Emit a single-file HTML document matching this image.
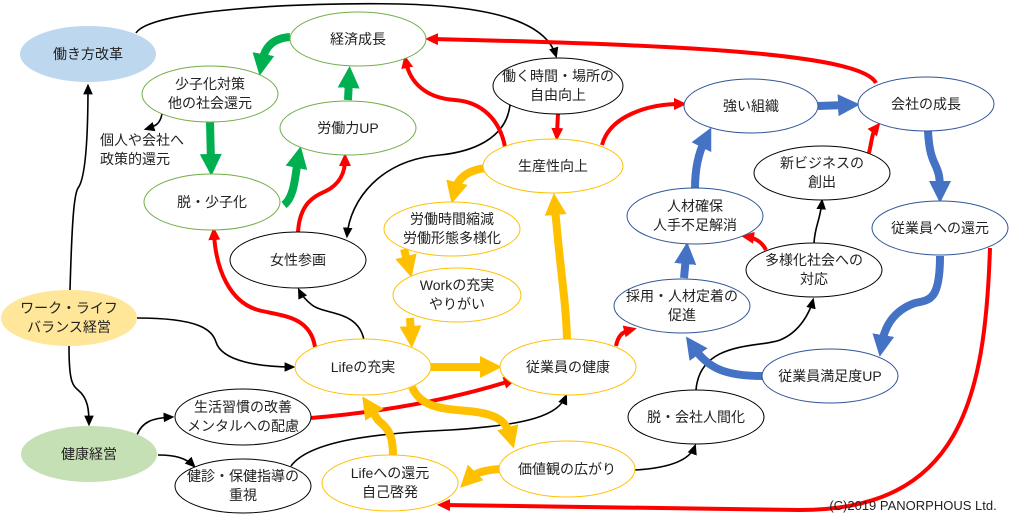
<!DOCTYPE html>
<html><head><meta charset="utf-8"><style>
body{margin:0;background:#fff}
svg{display:block}
text{font-family:"Liberation Sans","Noto Sans CJK JP",sans-serif;font-size:14px;fill:#222;text-anchor:middle}
</style></head><body>
<svg width="1009" height="519" viewBox="0 0 1009 519" xmlns="http://www.w3.org/2000/svg">
<defs>
<marker id="mk" markerUnits="userSpaceOnUse" markerWidth="12" markerHeight="12" refX="7" refY="5" orient="auto" viewBox="0 0 10 10"><path d="M0,1 L9,5 L0,9 z" fill="#000"/></marker>
<marker id="mr" markerUnits="userSpaceOnUse" markerWidth="14" markerHeight="14" refX="6" refY="7" orient="auto" viewBox="0 0 14 14"><path d="M0,1 L13,7 L0,13 z" fill="#f00"/></marker>
<marker id="mg" markerUnits="userSpaceOnUse" markerWidth="24" markerHeight="24" refX="8" refY="12" orient="auto" viewBox="0 0 24 24"><path d="M0,1 L22,12 L0,23 z" fill="#00B050"/></marker>
<marker id="mo" markerUnits="userSpaceOnUse" markerWidth="24" markerHeight="24" refX="8" refY="12" orient="auto" viewBox="0 0 24 24"><path d="M0,1 L22,12 L0,23 z" fill="#FFC000"/></marker>
<marker id="mb" markerUnits="userSpaceOnUse" markerWidth="24" markerHeight="24" refX="8" refY="12" orient="auto" viewBox="0 0 24 24"><path d="M0,1 L22,12 L0,23 z" fill="#4472C4"/></marker>
</defs>

<g fill="none" stroke="#000" stroke-width="1.6">
<path d="M136,33 C150,10 300,2 400,4 C480,6 545,18 556,56" marker-end="url(#mk)"/>
<path d="M70,290 C72,220 74,195 78,188 C86,178 88,130 88,86" marker-end="url(#mk)"/>
<path d="M69,346 C69,380 72,385 78,390 C88,398 89,410 89,424" marker-end="url(#mk)"/>
<path d="M137,318 C200,318 212,330 216,342 C222,362 262,367 293,367" marker-end="url(#mk)"/>
<path d="M162,114 C160,124 156,126 146,129" marker-end="url(#mk)"/>
<path d="M510,105 C506,140 470,152 440,155 C380,160 350,200 347,236" marker-end="url(#mk)"/>
<path d="M364,340 C358,310 325,315 312,305 C302,297 300,292 299,290" marker-end="url(#mk)"/>
<path d="M137,435 C142,422 152,418 172,417" marker-end="url(#mk)"/>
<path d="M158,455 C175,455 186,458 194,466" marker-end="url(#mk)"/>
<path d="M291,466 C310,440 380,433 450,430 C530,425 558,415 566,396" marker-end="url(#mk)"/>
<path d="M635,470 C670,468 690,460 695,446" marker-end="url(#mk)"/>
<path d="M696,390 C700,340 760,348 780,340 C800,332 810,312 813,300" marker-end="url(#mk)"/>
<path d="M814,243 C815,225 820,222 822,201" marker-end="url(#mk)"/>
</g>

<g fill="none" stroke="#f00" stroke-width="4">
<path d="M876,83 C862,55 700,45 432,39" marker-end="url(#mr)"/>
<path d="M558,113 L557,134" marker-end="url(#mr)"/>
<path d="M505,147 C500,120 482,102 455,100 C425,98 410,82 406,62" marker-end="url(#mr)"/>
<path d="M602,145 C610,115 650,104 680,104" marker-end="url(#mr)"/>
<path d="M869,153 C872,140 872,133 876,128" marker-end="url(#mr)"/>
<path d="M766,250 C762,242 755,238 748,237" marker-end="url(#mr)"/>
<path d="M298,232 C300,200 318,195 326,191 C340,184 345,172 345,160" marker-end="url(#mr)"/>
<path d="M315,347 C310,315 280,316 258,310 C230,302 216,270 214,234" marker-end="url(#mr)"/>
<path d="M311,418 C380,412 450,400 510,381" marker-end="url(#mr)"/>
<path d="M616,346 C618,336 622,332 630,330" marker-end="url(#mr)"/>
<path d="M990,248 C985,400 960,510 800,510 L444,505" marker-end="url(#mr)"/>
</g>

<g fill="none" stroke="#00B050" stroke-width="8">
<path d="M290,37 C275,38 265,45 262,62" marker-end="url(#mg)"/>
<path d="M210,122 L211,162" marker-end="url(#mg)"/>
<path d="M284,205 C295,196 295,175 298,160" marker-end="url(#mg)"/>
<path d="M348,100 L349,80" marker-end="url(#mg)"/>
</g>

<g fill="none" stroke="#FFC000" stroke-width="8">
<path d="M486,168 C468,170 458,178 455,190" marker-end="url(#mo)"/>
<path d="M404,249 L408,264" marker-end="url(#mo)"/>
<path d="M410,318 L411,334" marker-end="url(#mo)"/>
<path d="M431,367 L488,367" marker-end="url(#mo)"/>
<path d="M412,387 C425,418 470,405 495,417 C505,422 508,428 510,435" marker-end="url(#mo)"/>
<path d="M567,340 C566,300 560,270 555,207" marker-end="url(#mo)"/>
<path d="M500,469 C485,470 475,473 470,478" marker-end="url(#mo)"/>
<path d="M393,456 C393,430 385,427 378,420 L370,408" marker-end="url(#mo)"/>
</g>

<g fill="none" stroke="#4472C4" stroke-width="8">
<path d="M818,106 L846,105" marker-end="url(#mb)"/>
<path d="M695,188 C695,165 700,150 705,140" marker-end="url(#mb)"/>
<path d="M684,278 L686,256" marker-end="url(#mb)"/>
<path d="M928,131 C930,170 940,160 940,189" marker-end="url(#mb)"/>
<path d="M940,256 C940,300 930,300 915,303 C895,310 885,325 882,343" marker-end="url(#mb)"/>
<path d="M762,376 C725,376 708,368 694,348" marker-end="url(#mb)"/>
</g>

<g stroke-width="1">
<ellipse cx="88" cy="54" rx="68" ry="28" fill="#BDD7EE"/>
<ellipse cx="69" cy="318" rx="68" ry="28" fill="#FFE699"/>
<ellipse cx="89" cy="454" rx="68" ry="28" fill="#C5E0B4"/>
<g fill="#fff" stroke="#70AD47">
<ellipse cx="358" cy="39" rx="68" ry="27"/>
<ellipse cx="210" cy="94" rx="68" ry="28"/>
<ellipse cx="348" cy="128" rx="68" ry="27"/>
<ellipse cx="212" cy="202" rx="68" ry="28"/>
</g>
<g fill="#fff" stroke="#000">
<ellipse cx="298" cy="260" rx="68" ry="28"/>
<ellipse cx="558" cy="86" rx="65" ry="28"/>
<ellipse cx="822" cy="173" rx="68" ry="27"/>
<ellipse cx="814" cy="270" rx="68" ry="27"/>
<ellipse cx="696" cy="417" rx="68" ry="27"/>
<ellipse cx="243" cy="417" rx="68" ry="28"/>
<ellipse cx="243" cy="486" rx="68" ry="27"/>
</g>
<g fill="#fff" stroke="#FFC000">
<ellipse cx="553" cy="166" rx="70" ry="27"/>
<ellipse cx="452" cy="229" rx="68" ry="27"/>
<ellipse cx="457" cy="295" rx="64" ry="27"/>
<ellipse cx="363" cy="367" rx="68" ry="28"/>
<ellipse cx="568" cy="367" rx="68" ry="28"/>
<ellipse cx="567" cy="469" rx="68" ry="28"/>
<ellipse cx="390" cy="483" rx="68" ry="28"/>
</g>
<g fill="#fff" stroke="#2F5597">
<ellipse cx="751" cy="106" rx="67" ry="27"/>
<ellipse cx="926" cy="104" rx="68" ry="27"/>
<ellipse cx="695" cy="216" rx="68" ry="28"/>
<ellipse cx="940" cy="228" rx="68" ry="27"/>
<ellipse cx="682" cy="306" rx="68" ry="27"/>
<ellipse cx="830" cy="376" rx="68" ry="27"/>
</g>
</g>

<text x="88" y="59">働き方改革</text>
<text x="69" y="313">ワーク・ライフ</text><text x="69" y="332">バランス経営</text>
<text x="89" y="459">健康経営</text>
<text x="358" y="44">経済成長</text>
<text x="210" y="89">少子化対策</text><text x="210" y="108">他の社会還元</text>
<text x="348" y="133">労働力UP</text>
<text x="212" y="207">脱・少子化</text>
<text x="100" y="145" style="text-anchor:start">個人や会社へ</text>
<text x="100" y="164" style="text-anchor:start">政策的還元</text>
<text x="298" y="265">女性参画</text>
<text x="558" y="81">働く時間・場所の</text><text x="558" y="100">自由向上</text>
<text x="553" y="171">生産性向上</text>
<text x="452" y="224">労働時間縮減</text><text x="452" y="243">労働形態多様化</text>
<text x="457" y="290">Workの充実</text><text x="457" y="309">やりがい</text>
<text x="363" y="372">Lifeの充実</text>
<text x="568" y="372">従業員の健康</text>
<text x="567" y="474">価値観の広がり</text>
<text x="390" y="478">Lifeへの還元</text><text x="390" y="497">自己啓発</text>
<text x="243" y="412">生活習慣の改善</text><text x="243" y="431">メンタルへの配慮</text>
<text x="243" y="481">健診・保健指導の</text><text x="243" y="500">重視</text>
<text x="751" y="111">強い組織</text>
<text x="926" y="109">会社の成長</text>
<text x="822" y="168">新ビジネスの</text><text x="822" y="187">創出</text>
<text x="695" y="211">人材確保</text><text x="695" y="230">人手不足解消</text>
<text x="940" y="233">従業員への還元</text>
<text x="814" y="265">多様化社会への</text><text x="814" y="284">対応</text>
<text x="682" y="301">採用・人材定着の</text><text x="682" y="320">促進</text>
<text x="830" y="381">従業員満足度UP</text>
<text x="696" y="422">脱・会社人間化</text>
<text x="913" y="510" style="font-size:13px">(C)2019 PANORPHOUS Ltd.</text>
</svg>
</body></html>
